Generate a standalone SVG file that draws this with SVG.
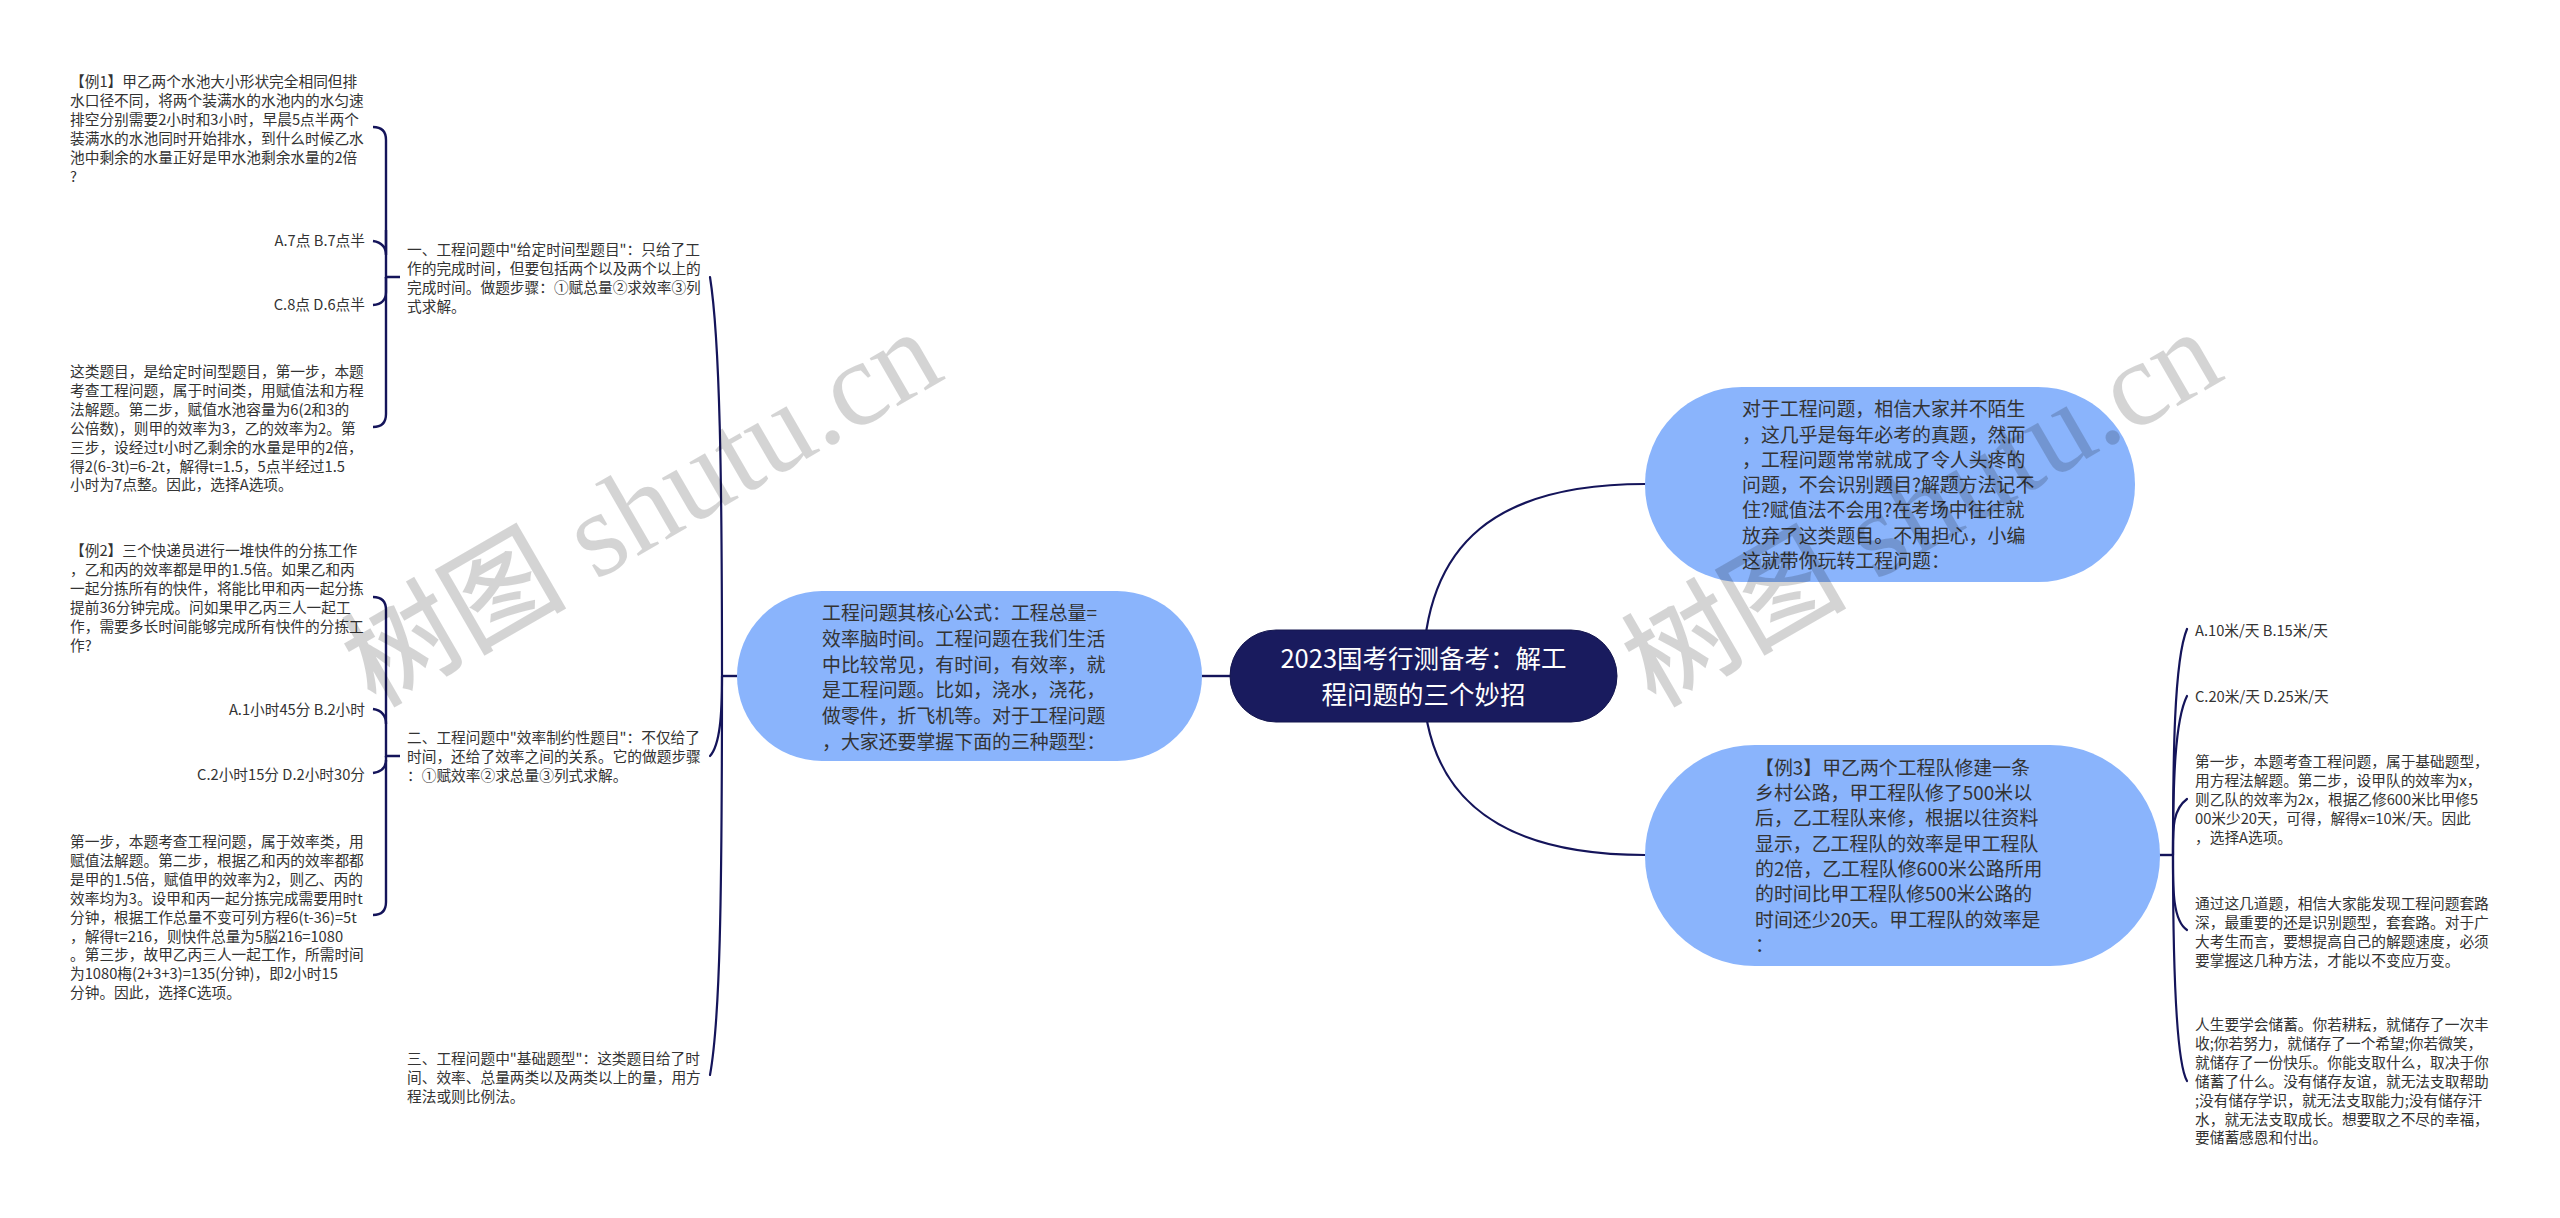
<svg xmlns="http://www.w3.org/2000/svg" width="2560" height="1218" viewBox="0 0 2560 1218">
<style>
text{font-family:"Noto Sans CJK SC","Microsoft YaHei",sans-serif;}
.s{font-size:14.7px;fill:#333;}
.e{text-anchor:end;}
.m{font-size:18.9px;fill:#333;}
.t{font-size:25.5px;fill:#fff;text-anchor:middle;}
.blue{fill:#8ab4fc;}
.root{fill:#191b5e;stroke:#14164f;stroke-width:1;}
.c{fill:none;stroke:#14145a;stroke-width:2.2;stroke-linecap:round;}
.b{fill:none;stroke:#14145a;stroke-width:2.4;}
.wm{font-family:"Liberation Serif","Noto Sans CJK SC",serif;font-size:121px;fill:#000;fill-opacity:.17;}
.wc{font-family:"Noto Sans CJK SC",serif;font-size:112px;font-weight:500;}
</style>
<rect width="2560" height="1218" fill="#fff"/>
<g id="connectors">
<path class="c" d="M1423,676C1423,540 1500,484 1645,484"/>
<path class="c" d="M1423,676C1423,820 1530,855 1645,855"/>
<path class="b" d="M1202,676H1230"/>
<path class="b" d="M722,676H737"/>
<path class="c" d="M722,676C722,480 720,340 710,277"/>
<path class="c" d="M722,676C722,715 720,745 710,756"/>
<path class="c" d="M722,676C722,900 720,1020 710,1075"/>
<path class="b" d="M400,277H386V140Q386,127 373,127"/>
<path class="b" d="M386,230V255Q386,243 373,241"/>
<path class="b" d="M386,277V292Q386,304 373,305"/>
<path class="b" d="M386,277V414Q386,427 373,427"/>
<path class="b" d="M400,756H386V610Q386,597 373,597"/>
<path class="b" d="M386,724Q386,711 373,709"/>
<path class="b" d="M386,760Q386,771 373,773"/>
<path class="b" d="M386,756V902Q386,915 373,915"/>
<path class="b" d="M2159,855H2173"/>
<path class="c" d="M2173,855C2173,760 2174,660 2187,629"/>
<path class="c" d="M2173,855C2173,780 2175,720 2187,696"/>
<path class="c" d="M2173,855C2173,830 2172,810 2187,799"/>
<path class="c" d="M2173,855C2173,885 2172,920 2187,930"/>
<path class="c" d="M2173,855C2173,950 2175,1060 2187,1081"/>
</g>
<g id="root"><rect class="root" x="1230" y="630" width="387" height="92" rx="46"/>
<text class="t"><tspan x="1423.5" y="668">2023国考行测备考&#xFF1A;解工</tspan><tspan x="1423.5" y="704">程问题的三个妙招</tspan></text></g>
<g id="node-left"><rect class="blue" x="737" y="591" width="465" height="170" rx="85"/>
<text class="m"><tspan x="822" y="620">工程问题其核心公式&#xFF1A;工程总量=</tspan><tspan x="822" y="645.8">效率脑时间。工程问题在我们生活</tspan><tspan x="822" y="671.6">中比较常见&#xFF0C;有时间&#xFF0C;有效率&#xFF0C;就</tspan><tspan x="822" y="697.4">是工程问题。比如&#xFF0C;浇水&#xFF0C;浇花&#xFF0C;</tspan><tspan x="822" y="723.2">做零件&#xFF0C;折飞机等。对于工程问题</tspan><tspan x="822" y="749">&#xFF0C;大家还要掌握下面的三种题型&#xFF1A;</tspan></text></g>
<g id="node-top-right"><rect class="blue" x="1645" y="387" width="490" height="195" rx="97"/>
<text class="m"><tspan x="1742" y="416.2">对于工程问题&#xFF0C;相信大家并不陌生</tspan><tspan x="1742" y="441.5">&#xFF0C;这几乎是每年必考的真题&#xFF0C;然而</tspan><tspan x="1742" y="466.8">&#xFF0C;工程问题常常就成了令人头疼的</tspan><tspan x="1742" y="492">问题&#xFF0C;不会识别题目?解题方法记不</tspan><tspan x="1742" y="517.2">住?赋值法不会用?在考场中往往就</tspan><tspan x="1742" y="542.5">放弃了这类题目。不用担心&#xFF0C;小编</tspan><tspan x="1742" y="567.7">这就带你玩转工程问题&#xFF1A;</tspan></text></g>
<g id="node-bottom-right"><rect class="blue" x="1645" y="745" width="515" height="221" rx="110"/>
<text class="m"><tspan x="1755" y="774.8">【例3】甲乙两个工程队修建一条</tspan><tspan x="1755" y="800.1">乡村公路&#xFF0C;甲工程队修了500米以</tspan><tspan x="1755" y="825.4">后&#xFF0C;乙工程队来修&#xFF0C;根据以往资料</tspan><tspan x="1755" y="850.7">显示&#xFF0C;乙工程队的效率是甲工程队</tspan><tspan x="1755" y="876">的2倍&#xFF0C;乙工程队修600米公路所用</tspan><tspan x="1755" y="901.3">的时间比甲工程队修500米公路的</tspan><tspan x="1755" y="926.6">时间还少20天。甲工程队的效率是</tspan><tspan x="1755" y="951.9">&#xFF1A;</tspan></text></g>
<g id="ex1"><text class="s"><tspan x="70" y="87">【例1】甲乙两个水池大小形状完全相同但排</tspan><tspan x="70" y="105.9">水口径不同&#xFF0C;将两个装满水的水池内的水匀速</tspan><tspan x="70" y="124.8">排空分别需要2小时和3小时&#xFF0C;早晨5点半两个</tspan><tspan x="70" y="143.7">装满水的水池同时开始排水&#xFF0C;到什么时候乙水</tspan><tspan x="70" y="162.6">池中剩余的水量正好是甲水池剩余水量的2倍</tspan><tspan x="70" y="181.5">?</tspan></text></g>
<g id="ex1-ab"><text class="s e" x="365" y="246">A.7点 B.7点半</text></g>
<g id="ex1-cd"><text class="s e" x="365" y="310.3">C.8点 D.6点半</text></g>
<g id="ex1-answer"><text class="s"><tspan x="70" y="377">这类题目&#xFF0C;是给定时间型题目&#xFF0C;第一步&#xFF0C;本题</tspan><tspan x="70" y="395.9">考查工程问题&#xFF0C;属于时间类&#xFF0C;用赋值法和方程</tspan><tspan x="70" y="414.8">法解题。第二步&#xFF0C;赋值水池容量为6(2和3的</tspan><tspan x="70" y="433.7">公倍数)&#xFF0C;则甲的效率为3&#xFF0C;乙的效率为2。第</tspan><tspan x="70" y="452.6">三步&#xFF0C;设经过t小时乙剩余的水量是甲的2倍&#xFF0C;</tspan><tspan x="70" y="471.5">得2(6-3t)=6-2t&#xFF0C;解得t=1.5&#xFF0C;5点半经过1.5</tspan><tspan x="70" y="490.4">小时为7点整。因此&#xFF0C;选择A选项。</tspan></text></g>
<g id="type1"><text class="s"><tspan x="407" y="255.3">一、工程问题中"给定时间型题目"&#xFF1A;只给了工</tspan><tspan x="407" y="274.2">作的完成时间&#xFF0C;但要包括两个以及两个以上的</tspan><tspan x="407" y="293.1">完成时间。做题步骤&#xFF1A;①赋总量②求效率③列</tspan><tspan x="407" y="312">式求解。</tspan></text></g>
<g id="ex2"><text class="s"><tspan x="70" y="556">【例2】三个快递员进行一堆快件的分拣工作</tspan><tspan x="70" y="574.9">&#xFF0C;乙和丙的效率都是甲的1.5倍。如果乙和丙</tspan><tspan x="70" y="593.8">一起分拣所有的快件&#xFF0C;将能比甲和丙一起分拣</tspan><tspan x="70" y="612.7">提前36分钟完成。问如果甲乙丙三人一起工</tspan><tspan x="70" y="631.6">作&#xFF0C;需要多长时间能够完成所有快件的分拣工</tspan><tspan x="70" y="650.5">作?</tspan></text></g>
<g id="ex2-ab"><text class="s e" x="365" y="715.3">A.1小时45分 B.2小时</text></g>
<g id="ex2-cd"><text class="s e" x="365" y="780">C.2小时15分 D.2小时30分</text></g>
<g id="ex2-answer"><text class="s"><tspan x="70" y="847">第一步&#xFF0C;本题考查工程问题&#xFF0C;属于效率类&#xFF0C;用</tspan><tspan x="70" y="865.9">赋值法解题。第二步&#xFF0C;根据乙和丙的效率都都</tspan><tspan x="70" y="884.8">是甲的1.5倍&#xFF0C;赋值甲的效率为2&#xFF0C;则乙、丙的</tspan><tspan x="70" y="903.7">效率均为3。设甲和丙一起分拣完成需要用时t</tspan><tspan x="70" y="922.6">分钟&#xFF0C;根据工作总量不变可列方程6(t-36)=5t</tspan><tspan x="70" y="941.5">&#xFF0C;解得t=216&#xFF0C;则快件总量为5脳216=1080</tspan><tspan x="70" y="960.4">。第三步&#xFF0C;故甲乙丙三人一起工作&#xFF0C;所需时间</tspan><tspan x="70" y="979.3">为1080梅(2+3+3)=135(分钟)&#xFF0C;即2小时15</tspan><tspan x="70" y="998.2">分钟。因此&#xFF0C;选择C选项。</tspan></text></g>
<g id="type2"><text class="s"><tspan x="407" y="743.3">二、工程问题中"效率制约性题目"&#xFF1A;不仅给了</tspan><tspan x="407" y="762.2">时间&#xFF0C;还给了效率之间的关系。它的做题步骤</tspan><tspan x="407" y="781.1">&#xFF1A;①赋效率②求总量③列式求解。</tspan></text></g>
<g id="type3"><text class="s"><tspan x="407" y="1063.8">三、工程问题中"基础题型"&#xFF1A;这类题目给了时</tspan><tspan x="407" y="1082.7">间、效率、总量两类以及两类以上的量&#xFF0C;用方</tspan><tspan x="407" y="1101.6">程法或则比例法。</tspan></text></g>
<g id="ex3-ab"><text class="s" x="2195" y="636.3">A.10米/天 B.15米/天</text></g>
<g id="ex3-cd"><text class="s" x="2195" y="702.3">C.20米/天 D.25米/天</text></g>
<g id="ex3-answer"><text class="s"><tspan x="2195" y="767.3">第一步&#xFF0C;本题考查工程问题&#xFF0C;属于基础题型&#xFF0C;</tspan><tspan x="2195" y="786.2">用方程法解题。第二步&#xFF0C;设甲队的效率为x&#xFF0C;</tspan><tspan x="2195" y="805.1">则乙队的效率为2x&#xFF0C;根据乙修600米比甲修5</tspan><tspan x="2195" y="824">00米少20天&#xFF0C;可得&#xFF0C;解得x=10米/天。因此</tspan><tspan x="2195" y="842.9">&#xFF0C;选择A选项。</tspan></text></g>
<g id="summary"><text class="s"><tspan x="2195" y="908.8">通过这几道题&#xFF0C;相信大家能发现工程问题套路</tspan><tspan x="2195" y="927.7">深&#xFF0C;最重要的还是识别题型&#xFF0C;套套路。对于广</tspan><tspan x="2195" y="946.6">大考生而言&#xFF0C;要想提高自己的解题速度&#xFF0C;必须</tspan><tspan x="2195" y="965.5">要掌握这几种方法&#xFF0C;才能以不变应万变。</tspan></text></g>
<g id="closing"><text class="s"><tspan x="2195" y="1030">人生要学会储蓄。你若耕耘&#xFF0C;就储存了一次丰</tspan><tspan x="2195" y="1048.9">收;你若努力&#xFF0C;就储存了一个希望;你若微笑&#xFF0C;</tspan><tspan x="2195" y="1067.8">就储存了一份快乐。你能支取什么&#xFF0C;取决于你</tspan><tspan x="2195" y="1086.7">储蓄了什么。没有储存友谊&#xFF0C;就无法支取帮助</tspan><tspan x="2195" y="1105.6">;没有储存学识&#xFF0C;就无法支取能力;没有储存汗</tspan><tspan x="2195" y="1124.5">水&#xFF0C;就无法支取成长。想要取之不尽的幸福&#xFF0C;</tspan><tspan x="2195" y="1143.4">要储蓄感恩和付出。</tspan></text></g>
<text class="wm" transform="translate(375,708) rotate(-30)"><tspan class="wc">树图</tspan> shutu.cn</text>
<text class="wm" transform="translate(1655,708) rotate(-30)"><tspan class="wc">树图</tspan> shutu.cn</text>
</svg>
